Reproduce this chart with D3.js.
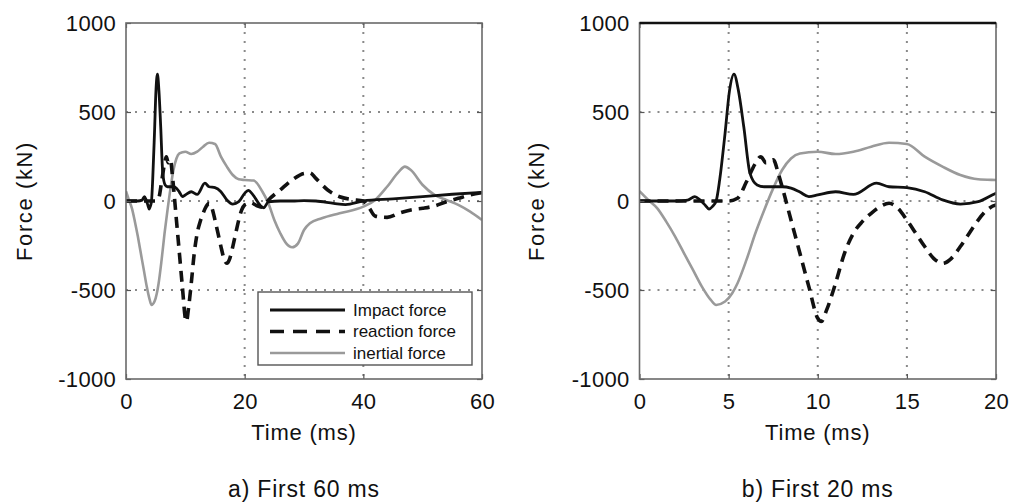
<!DOCTYPE html>
<html>
<head>
<meta charset="utf-8">
<script src="https://cdn.jsdelivr.net/npm/d3@7"></script>
<style>
  html, body { margin: 0; padding: 0; background: #fff; }
  svg { display: block; font-family: "Liberation Sans", Arial, Helvetica, sans-serif; }
</style>
</head>
<body>
<svg id="chart" width="1012" height="503"></svg>
<script>
// Impact, reaction and inertial force histories, [time (ms), force (kN)]
const impactForce = [
  [0,0],[1,0],[2,0],[2.7,5],[3.1,25],[3.4,5],[3.7,-25],[3.9,-45],[4.1,-30],[4.3,0],
  [4.5,120],[4.8,380],[5.05,620],[5.3,713],[5.55,620],[5.85,417],[6.2,155],[6.6,90],
  [7,80],[7.5,80],[8,80],[8.5,72],[9,50],[9.5,25],[10,34],[11,52],[12,37],[13.3,100],
  [14,80],[15,75],[16,52],[17,6],[18,-17],[19,-4],[20,43],[20.6,60],[21.5,30],
  [22.5,-20],[23.2,-38],[24,-5],[26,0],[28,0],[30,2],[32,0],[35,-13],[37,-20],
  [40,0],[45,12],[50,25],[55,38],[60,48]
];
const reactionForce = [
  [0,0],[2,0],[4,0],[5,0],[5.5,15],[6,108],[6.5,211],[6.8,249],[7.1,215],[7.5,232],
  [7.8,150],[8,80],[8.5,-107],[9,-294],[9.5,-481],[10,-659],[10.2,-677],[10.5,-612],
  [11,-462],[11.5,-294],[12,-181],[12.5,-116],[13,-69],[13.5,-32],[14,-13],[14.5,-41],
  [15,-107],[15.5,-181],[16,-256],[16.5,-322],[17,-350],[17.5,-322],[18,-256],
  [18.5,-181],[19,-107],[19.5,-50],[20,-22],[21,-10],[22,-25],[23,-35],[24,5],
  [26,62],[28,118],[30,155],[31,158],[32,127],[34,62],[36,24],[38,9],[40,0],
  [41,-40],[42,-85],[44,-92],[46,-69],[48,-50],[50,-41],[52,-28],[54,-4],[56,15],
  [58,34],[60,47]
];
const inertialForce = [
  [0,55],[0.5,5],[1,-41],[1.5,-116],[2,-200],[2.5,-294],[3,-387],[3.5,-481],[4,-556],
  [4.3,-584],[4.8,-565],[5.2,-518],[5.5,-462],[6,-331],[6.5,-181],[7,-50],[7.5,71],
  [8,174],[8.5,239],[9,267],[10,277],[11,264],[12,277],[13,305],[14,327],[15,320],
  [16,249],[17,193],[18,146],[19,122],[20,118],[21.5,115],[23,52],[24,-13],[25,-107],
  [26,-181],[27,-238],[28,-260],[29,-238],[30,-163],[31,-125],[33,-97],[36,-69],
  [40,-32],[42,6],[44,80],[46,165],[47,193],[48,174],[50,90],[52,34],[54,6],
  [56,-22],[58,-60],[60,-107]
];

const seriesNames = ["Impact force", "reaction force", "inertial force"];
const yTicks = [-1000, -500, 0, 500, 1000];
const yGrid = [-500, 0, 500];
const panelA_xTicks = [0, 20, 40, 60];
const panelA_xGrid = [20, 40];
const panelB_xTicks = [0, 5, 10, 15, 20];
const panelB_xGrid = [5, 10, 15];
const xLabel = "Time (ms)";
const yLabel = "Force (kN)";
const captions = ["a) First 60 ms", "b) First 20 ms"];

const series = [
  { name: seriesNames[0], data: impactForce,   color: "#111", width: 2.8, dash: null },
  { name: seriesNames[1], data: reactionForce, color: "#111", width: 3.6, dash: "11,7" },
  { name: seriesNames[2], data: inertialForce, color: "#9a9a9a", width: 2.6, dash: null }
];

const svg = d3.select("#chart");
const textColor = "#111";
// plain hyphen-minus for negative tick values
const fmt = d => String(d);

function drawPanel(opts) {
  const { id, left, right, top, bottom, xMax, xTicks, xGrid, caption, yLabelX, legend, thickTop } = opts;
  const x = d3.scaleLinear().domain([0, xMax]).range([left, right]);
  const y = d3.scaleLinear().domain([-1000, 1000]).range([bottom, top]);
  const g = svg.append("g");

  g.append("clipPath").attr("id", id).append("rect")
    .attr("x", left).attr("y", top).attr("width", right - left).attr("height", bottom - top);

  // dotted grid
  const grid = g.append("g").attr("stroke", "#8a8a8a").attr("stroke-width", 2)
    .attr("stroke-dasharray", "2,7").attr("fill", "none");
  grid.selectAll("line.gx").data(xGrid).join("line")
    .attr("x1", d => x(d)).attr("x2", d => x(d)).attr("y1", top).attr("y2", bottom);
  grid.selectAll("line.gy").data(yGrid).join("line")
    .attr("x1", left).attr("x2", right).attr("y1", d => y(d)).attr("y2", d => y(d));

  // curves
  const line = d3.line().x(d => x(d[0])).y(d => y(d[1])).curve(d3.curveMonotoneX);
  const curves = g.append("g").attr("clip-path", `url(#${id})`);
  [series[2], series[0], series[1]].forEach(s => {
    curves.append("path").datum(s.data)
      .attr("d", line).attr("fill", "none")
      .attr("stroke", s.color).attr("stroke-width", s.width)
      .attr("stroke-linejoin", "round")
      .attr("stroke-dasharray", s.dash);
  });

  // axes: bottom and left with labels, inward ticks on all sides
  const tickLen = 5;
  const axisBottom = d3.axisBottom(x).tickValues(xTicks).tickSize(-tickLen).tickPadding(14).tickFormat(fmt);
  const axisTop = d3.axisTop(x).tickValues(xTicks).tickSize(-tickLen).tickFormat("");
  const axisLeft = d3.axisLeft(y).tickValues(yTicks).tickSize(-tickLen).tickPadding(10).tickFormat(fmt);
  const axisRight = d3.axisRight(y).tickValues(yTicks).tickSize(-tickLen).tickFormat("");

  const styleAxis = sel => {
    sel.select(".domain").remove();
    sel.selectAll(".tick line").attr("stroke", "#555").attr("stroke-width", 1.2);
    sel.selectAll(".tick text").attr("fill", textColor).attr("font-size", 22)
      .attr("letter-spacing", 0.3);
  };
  g.append("g").attr("transform", `translate(0,${bottom})`).call(axisBottom).call(styleAxis);
  g.append("g").attr("transform", `translate(0,${top})`).call(axisTop).call(styleAxis);
  g.append("g").attr("transform", `translate(${left},0)`).call(axisLeft).call(styleAxis)
    .selectAll(".tick text").attr("dy", "0.36em");
  g.append("g").attr("transform", `translate(${right},0)`).call(axisRight).call(styleAxis);

  // frame
  g.append("rect").attr("x", left).attr("y", top).attr("width", right - left).attr("height", bottom - top)
    .attr("fill", "none").attr("stroke", "#6a6a6a").attr("stroke-width", 1.6);
  if (thickTop) {
    g.append("line").attr("x1", left).attr("x2", right).attr("y1", top).attr("y2", top)
      .attr("stroke", "#111").attr("stroke-width", 2.4);
  }

  // labels
  g.append("text").attr("x", (left + right) / 2).attr("y", 440)
    .attr("text-anchor", "middle").attr("font-size", 22).attr("letter-spacing", 0.8)
    .attr("fill", textColor).text(xLabel);
  g.append("text").attr("transform", `translate(${yLabelX},${(top + bottom) / 2}) rotate(-90)`)
    .attr("text-anchor", "middle").attr("font-size", 22).attr("letter-spacing", 1.6)
    .attr("dy", "0.35em").attr("fill", textColor).text(yLabel);
  g.append("text").attr("x", (left + right) / 2).attr("y", 497)
    .attr("text-anchor", "middle").attr("font-size", 23).attr("letter-spacing", 0.8)
    .attr("fill", textColor).text(caption);

  if (legend) {
    const lg = g.append("g");
    lg.append("rect").attr("x", legend.x).attr("y", legend.y).attr("width", legend.w).attr("height", legend.h)
      .attr("fill", "#fff").attr("stroke", "#555").attr("stroke-width", 1.4);
    series.forEach((s, i) => {
      const ly = legend.y + 18 + i * 21.5;
      lg.append("line").attr("x1", legend.x + 12).attr("x2", legend.x + 87)
        .attr("y1", ly).attr("y2", ly)
        .attr("stroke", s.color).attr("stroke-width", s.width)
        .attr("stroke-dasharray", s.dash ? "14,9" : null);
      lg.append("text").attr("x", legend.x + 95).attr("y", ly).attr("dy", "0.35em")
        .attr("font-size", 17).attr("fill", textColor).text(s.name);
    });
  }
}

drawPanel({
  id: "clipA", left: 126, right: 482, top: 23, bottom: 379, xMax: 60,
  xTicks: panelA_xTicks, xGrid: panelA_xGrid, caption: captions[0], yLabelX: 24,
  legend: { x: 258, y: 292, w: 214, h: 73 }, thickTop: false
});
drawPanel({
  id: "clipB", left: 639.5, right: 996, top: 23, bottom: 379, xMax: 20,
  xTicks: panelB_xTicks, xGrid: panelB_xGrid, caption: captions[1], yLabelX: 536,
  legend: null, thickTop: true
});
</script>
</body>
</html>
